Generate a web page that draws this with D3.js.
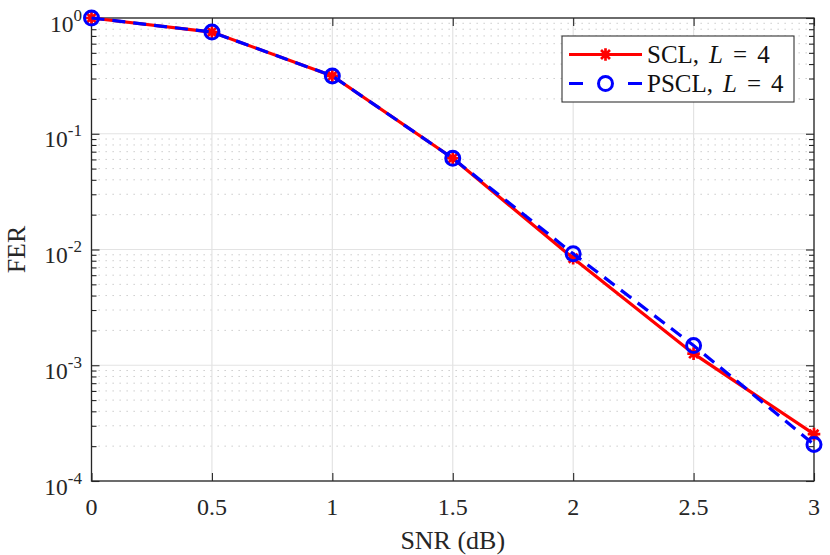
<!DOCTYPE html>
<html>
<head>
<meta charset="utf-8">
<script src="https://cdn.jsdelivr.net/npm/d3@7"></script>
<style>
  body { margin: 0; background: #fff; }
  svg { display: block; font-family: "Liberation Serif", "Times New Roman", serif; }
</style>
</head>
<body>
<svg class="ferchart" width="830" height="555"></svg>
<script>
// values
var snr = [0, 0.5, 1, 1.5, 2, 2.5, 3];
var ferSCL = [1, 0.756, 0.316, 0.0614, 0.0084, 0.00126, 0.000254];
var ferPSCL = [1, 0.756, 0.316, 0.0614, 0.0092, 0.00148, 0.000207];
var xTicks = [0, 0.5, 1, 1.5, 2, 2.5, 3];
var yDecades = [-4, -3, -2, -1, 0];
var seriesNames = ["SCL", "PSCL"];

(function ferChartIIFE() {
    var svg = d3.select("svg.ferchart"),
        left = 91.5, right = 814, top = 18, bottom = 481;

    var x = d3.scaleLinear().domain([0, 3]).range([left, right]);
    var y = d3.scaleLog().domain([1e-4, 1]).range([bottom, top]);

    var minor = [];
    yDecades.slice(0, -1).forEach(function(e) {
        for (var m = 2; m <= 9; m++) minor.push(m * Math.pow(10, e));
    });

    var grid = svg.append("g");
    // minor dotted grid
    grid.selectAll("line.minor").data(minor).enter().append("line")
        .attr("x1", left).attr("x2", right)
        .attr("y1", function(d) { return y(d); }).attr("y2", function(d) { return y(d); })
        .attr("stroke", "#c4c4c4").attr("stroke-width", 1)
        .attr("stroke-dasharray", "1.3,5.7");
    // major grid
    grid.selectAll("line.mx").data(xTicks).enter().append("line")
        .attr("x1", function(d) { return x(d); }).attr("x2", function(d) { return x(d); })
        .attr("y1", top).attr("y2", bottom)
        .attr("stroke", "#e3e3e3").attr("stroke-width", 1.2);
    grid.selectAll("line.my").data(yDecades).enter().append("line")
        .attr("x1", left).attr("x2", right)
        .attr("y1", function(d) { return y(Math.pow(10, d)); })
        .attr("y2", function(d) { return y(Math.pow(10, d)); })
        .attr("stroke", "#e3e3e3").attr("stroke-width", 1.2);

    // axes with inner ticks on all four sides
    var axisCol = "#262626";
    function styleAxis(g) {
        g.select(".domain").remove();
        g.selectAll(".tick line").attr("stroke", axisCol).attr("stroke-width", 1.1);
        g.selectAll("text").remove();
    }
    svg.append("g").attr("transform", "translate(0," + bottom + ")")
        .call(d3.axisTop(x).tickValues(xTicks).tickSize(8)).call(styleAxis);
    svg.append("g").attr("transform", "translate(0," + top + ")")
        .call(d3.axisBottom(x).tickValues(xTicks).tickSize(8)).call(styleAxis);
    var decadeVals = yDecades.map(function(e) { return Math.pow(10, e); });
    svg.append("g").attr("transform", "translate(" + left + ",0)")
        .call(d3.axisRight(y).tickValues(decadeVals).tickSize(8)).call(styleAxis);
    svg.append("g").attr("transform", "translate(" + left + ",0)")
        .call(d3.axisRight(y).tickValues(minor).tickSize(5)).call(styleAxis);
    svg.append("g").attr("transform", "translate(" + right + ",0)")
        .call(d3.axisLeft(y).tickValues(decadeVals).tickSize(8)).call(styleAxis);
    svg.append("g").attr("transform", "translate(" + right + ",0)")
        .call(d3.axisLeft(y).tickValues(minor).tickSize(5)).call(styleAxis);

    svg.append("rect")
        .attr("x", left).attr("y", top)
        .attr("width", right - left).attr("height", bottom - top)
        .attr("fill", "none").attr("stroke", axisCol).attr("stroke-width", 1.3);

    // tick labels
    svg.selectAll("text.xt").data(xTicks).enter().append("text")
        .attr("x", function(d) { return x(d); }).attr("y", 515)
        .attr("text-anchor", "middle").attr("font-size", 24).attr("fill", axisCol)
        .text(function(d) { return d3.format("")(d); });

    var yl = svg.selectAll("text.yt").data(yDecades).enter().append("text")
        .attr("x", 82).attr("y", function(d) { return y(Math.pow(10, d)) + 13.5; })
        .attr("text-anchor", "end").attr("font-size", 23.5).attr("fill", axisCol);
    yl.append("tspan").text("10");
    yl.append("tspan").attr("dy", -11).attr("font-size", 17)
        .text(function(d) { return d === 0 ? "0" : "-" + Math.abs(d); });

    svg.append("text")
        .attr("x", (left + right) / 2).attr("y", 549)
        .attr("text-anchor", "middle").attr("font-size", 26).attr("fill", axisCol)
        .text("SNR (dB)");
    svg.append("text")
        .attr("transform", "translate(25," + ((top + bottom) / 2) + ") rotate(-90)")
        .attr("text-anchor", "middle").attr("font-size", 26).attr("fill", axisCol)
        .text("FER");

    // series
    var line = d3.line()
        .x(function(d) { return x(d[0]); })
        .y(function(d) { return y(d[1]); });
    var sclPts = d3.zip(snr, ferSCL),
        psclPts = d3.zip(snr, ferPSCL);

    function star(g, r) {
        var p = d3.path();
        for (var k = 0; k < 4; k++) {
            var a = k * Math.PI / 4;
            p.moveTo(-r * Math.cos(a), -r * Math.sin(a));
            p.lineTo(r * Math.cos(a), r * Math.sin(a));
        }
        g.append("path").attr("d", p.toString())
            .attr("stroke", "#ff0000").attr("stroke-width", 2.7).attr("fill", "none");
    }

    var plot = svg.append("g");
    plot.append("path").datum(sclPts)
        .attr("d", line).attr("fill", "none")
        .attr("stroke", "#ff0000").attr("stroke-width", 3.2);
    plot.selectAll("g.star").data(sclPts).enter().append("g")
        .attr("transform", function(d) { return "translate(" + x(d[0]) + "," + y(d[1]) + ")"; })
        .each(function() { star(d3.select(this), 6.3); });

    plot.append("path").datum(psclPts)
        .attr("d", line).attr("fill", "none")
        .attr("stroke", "#0000ff").attr("stroke-width", 3.2)
        .attr("stroke-dasharray", "13,8");
    plot.selectAll("circle.m").data(psclPts).enter().append("circle")
        .attr("cx", function(d) { return x(d[0]); })
        .attr("cy", function(d) { return y(d[1]); })
        .attr("r", 7).attr("fill", "none")
        .attr("stroke", "#0000ff").attr("stroke-width", 3);

    // legend
    var lg = svg.append("g").attr("transform", "translate(562,36)");
    lg.append("rect").attr("width", 232).attr("height", 66)
        .attr("fill", "#fff").attr("stroke", "#333").attr("stroke-width", 1.1);
    var rows = [18.5, 47.5];
    lg.append("line").attr("x1", 7).attr("x2", 80).attr("y1", rows[0]).attr("y2", rows[0])
        .attr("stroke", "#ff0000").attr("stroke-width", 3.2);
    star(lg.append("g").attr("transform", "translate(43.5," + rows[0] + ")"), 6.3);
    lg.append("line").attr("x1", 7).attr("x2", 80).attr("y1", rows[1]).attr("y2", rows[1])
        .attr("stroke", "#0000ff").attr("stroke-width", 3.2)
        .attr("stroke-dasharray", "14,45");
    lg.append("circle").attr("cx", 43.5).attr("cy", rows[1]).attr("r", 7)
        .attr("fill", "none").attr("stroke", "#0000ff").attr("stroke-width", 3);

    seriesNames.forEach(function(name, i) {
        var t = lg.append("text").attr("x", 85).attr("y", rows[i] + 8.5)
            .attr("font-size", 25).attr("fill", "#111");
        t.append("tspan").text(name + ",");
        t.append("tspan").attr("dx", 10).attr("font-style", "italic").text("L");
        t.append("tspan").attr("dx", 10).text("=");
        t.append("tspan").attr("dx", 10).text("4");
    });
})();
</script>
</body>
</html>
